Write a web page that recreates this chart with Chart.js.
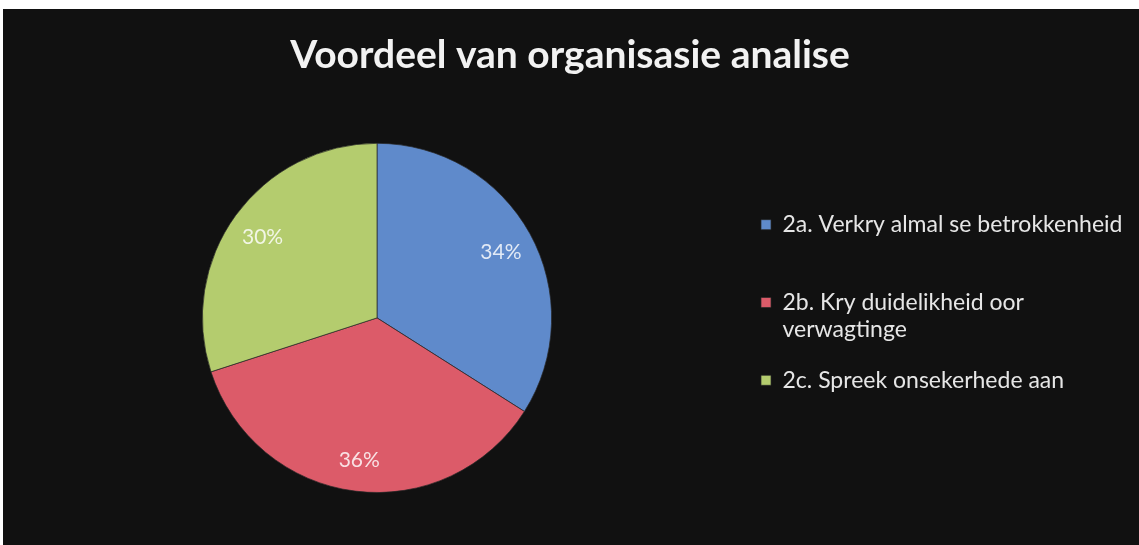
<!DOCTYPE html>
<html>
<head>
<meta charset="utf-8">
<script src="https://cdn.jsdelivr.net/npm/chart.js@4/dist/chart.umd.min.js"></script>
<style>
  html, body { margin: 0; padding: 0; background: #ffffff; }
  #wrap { position: absolute; left: 3px; top: 9px; width: 1136px; height: 536px; background: #111111; }
</style>
</head>
<body>
<div id="wrap"><canvas id="pie"></canvas></div>
<script>
// Data
const titleText = 'Voordeel van organisasie analise';
const categories = [
    ['2a. Verkry almal se betrokkenheid', ''],
    ['2b. Kry duidelikheid oor', 'verwagtinge'],
    ['2c. Spreek onsekerhede aan', '']
];
const percentages = [34, 36, 30];
const sliceColours = ['#5f8acb', '#dc5b69', '#b4cc6e'];

// Draw the "34%" style labels inside the slices
const sliceLabels = {
    id: 'sliceLabels',
    afterDatasetsDraw(chart) {
        const ctx = chart.ctx;
        const meta = chart.getDatasetMeta(0);
        ctx.save();
        ctx.font = '21px Lato';
        ctx.fillStyle = 'rgba(255,255,255,0.82)';
        ctx.textAlign = 'center';
        ctx.textBaseline = 'middle';
        meta.data.forEach((arc, i) => {
            const p = arc.getProps(['x', 'y', 'startAngle', 'endAngle', 'outerRadius'], true);
            const mid = (p.startAngle + p.endAngle) / 2;
            const r = p.outerRadius * 0.81;
            ctx.fillText(percentages[i] + '%', p.x + Math.cos(mid) * r, p.y + Math.sin(mid) * r + 2);
        });
        ctx.restore();
    }
};

const ctx = document.getElementById('pie').getContext('2d');
const chart = new Chart(ctx, {
    type: 'pie',
    data: {
        labels: categories,
        datasets: [{
            data: percentages,
            backgroundColor: sliceColours,
            borderColor: 'rgba(40,40,40,0.7)',
            borderWidth: 1
        }]
    },
    options: {
        responsive: true,
        maintainAspectRatio: false,
        animation: false,
        layout: {
            padding: { left: 14, top: 20, bottom: 52, right: 16 }
        },
        plugins: {
            title: {
                display: true,
                text: titleText,
                color: '#f2f2f2',
                font: { family: 'Lato', size: 39, weight: 'bold', lineHeight: 1.2 },
                padding: { top: 3, bottom: 64 }
            },
            legend: {
                position: 'right',
                fullSize: false,
                maxWidth: 386,
                labels: {
                    color: '#e6e6e6',
                    boxWidth: 10,
                    boxHeight: 10,
                    padding: 24,
                    font: { family: 'Lato', size: 23, lineHeight: 1.17 }
                }
            },
            tooltip: { enabled: false }
        }
    },
    plugins: [sliceLabels]
});
</script>
</body>
</html>
